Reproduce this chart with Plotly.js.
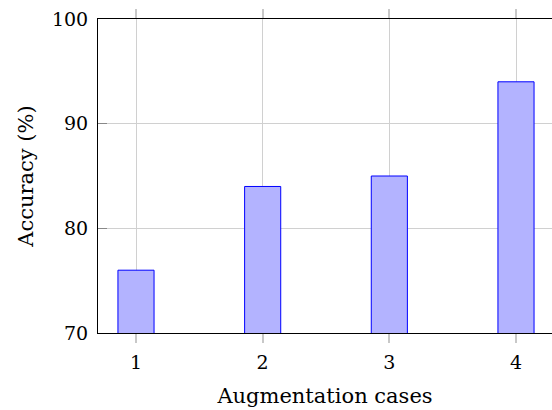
<!DOCTYPE html>
<html><head><meta charset="utf-8">
<script src="https://cdn.plot.ly/plotly-3.0.1.min.js"></script>
<style>html,body{margin:0;padding:0;overflow:hidden;background:#fff}#c{width:552px;height:410px}</style>
</head><body><div id="c"></div>
<script>
const cases = [1, 2, 3, 4];
const accuracy = [76, 84, 85, 94];
const yTicks = [70, 80, 90, 100];
const xTitle = 'Augmentation cases';
const yTitle = 'Accuracy (%)';

const fam = 'DejaVu Serif, Liberation Serif, serif';
const tickFont = {family: fam, size: 19, color: '#000'};
const titleFont = {family: fam, size: 21, color: '#000'};
const trace = {
  type: 'bar', x: cases, y: accuracy, width: 0.285,
  marker: {color: '#b3b3ff', line: {color: '#0000ff', width: 1}},
  hoverinfo: 'none'
};
const layout = {
  width: 552, height: 410,
  margin: {l: 98, r: 0, t: 19, b: 77},
  paper_bgcolor: '#fff', plot_bgcolor: '#fff',
  font: tickFont, showlegend: false, bargap: 0,
  xaxis: {
    range: [0.7, 4.2842], tickvals: cases, ticktext: cases.map(String),
    showgrid: true, gridcolor: '#d0d0d0', gridwidth: 1,
    ticks: 'outside', ticklen: 9, tickcolor: '#c8c8c8', tickwidth: 2,
    ticklabelstandoff: 3,
    showline: true, linecolor: '#000', linewidth: 1, zeroline: false,
    tickfont: tickFont,
    title: {text: xTitle, font: titleFont, standoff: 16}
  },
  xaxis2: {
    overlaying: 'x', matches: 'x', side: 'top', range: [0.7, 4.2842],
    tickvals: cases, showticklabels: false, showgrid: false,
    ticks: 'outside', ticklen: 9, tickcolor: '#c8c8c8', tickwidth: 2,
    showline: true, linecolor: '#000', linewidth: 1, zeroline: false
  },
  yaxis: {
    range: [70, 100], tickvals: yTicks, ticktext: yTicks.map(String),
    showgrid: true, gridcolor: '#d0d0d0', gridwidth: 1,
    ticks: 'inside', ticklen: 9, tickcolor: '#888', tickwidth: 1,
    ticklabelstandoff: 5,
    showline: true, linecolor: '#000', linewidth: 1, zeroline: false,
    tickfont: tickFont,
    title: {text: yTitle, font: titleFont, standoff: 12}
  }
};
const t2 = {type: 'scatter', x: [1], y: [70], xaxis: 'x2', mode: 'markers', marker: {opacity: 0}, hoverinfo: 'none'};
Plotly.newPlot('c', [trace, t2], layout, {staticPlot: true});
</script></body></html>
